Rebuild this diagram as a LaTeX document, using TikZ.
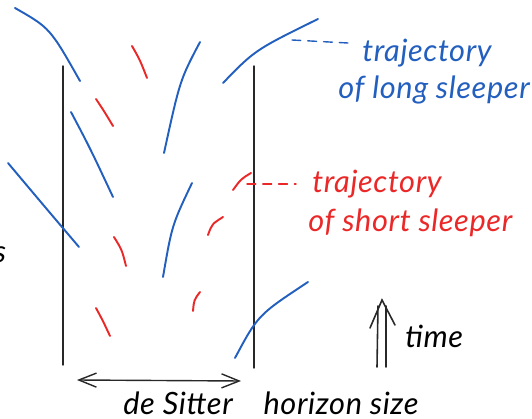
\documentclass[tikz,border=0pt]{standalone}
\usepackage{fontspec}
\setmainfont{Lato}
\usetikzlibrary{arrows.meta, positioning}
\definecolor{sleepblue}{RGB}{35,95,190}
\definecolor{sleepred}{RGB}{235,40,40}
\definecolor{penblack}{RGB}{40,40,40}

\begin{document}
\begin{tikzpicture}[
    x=0.02cm, y=-0.02cm, line cap=round,
    longtraj/.style={draw=sleepblue, line width=1.1pt},
    shorttraj/.style={draw=sleepred, line width=1.1pt},
    horizon/.style={draw=penblack, line width=0.8pt},
    leader/.style={dashed, dash pattern=on 5pt off 4pt, line width=0.8pt},
    hand/.style={font=\fontsize{17.5}{20}\selectfont\itshape\addfontfeatures{LetterSpace=2},
                 inner sep=0pt, anchor=base west}
  ]
  \useasboundingbox (0,0) rectangle (532,419);

  % horizon walls
  \draw[horizon] (63,66) -- (63,365);
  \draw[horizon] (254,66) -- (254,368);

  % long sleepers
  \draw[longtraj] (15,8) .. controls (50,28) .. (80,81);
  \draw[longtraj] (71,112) .. controls (90,148) .. (113,197);
  \draw[longtraj] (200,42) .. controls (180,80) .. (164,153);
  \draw[longtraj] (223,83) .. controls (255,50) .. (318,19);
  \draw[longtraj] (8,163) .. controls (45,207) .. (79,247);
  \draw[longtraj] (192,183) .. controls (172,225) .. (163,277);
  \draw[longtraj] (235,358) .. controls (258,315) .. (308,282);

  % short sleepers
  \draw[shorttraj] (132,46) .. controls (140,60) .. (147,78);
  \draw[shorttraj] (96,99) .. controls (104,111) .. (113,126);
  \draw[shorttraj] (233,190) .. controls (241,179) .. (251,173);
  \draw[shorttraj] (114,237) .. controls (122,250) .. (126,266);
  \draw[shorttraj] (223,217) .. controls (212,224) .. (208,235);
  \draw[shorttraj] (96,308) .. controls (103,321) .. (110,336);
  \draw[shorttraj] (200,292) .. controls (194,300) .. (193,311);

  % labels
  \node[hand, text=sleepblue] (longlab) at (362,62) {trajectory};
  \node[hand, text=sleepblue] (longlab2) at (338,98) {of long sleeper};
  \node[hand, text=sleepred] (shortlab) at (312,193) {trajectory};
  \node[hand, text=sleepred] (shortlab2) at (308,232) {of short sleeper};
  \node[hand] (timelab) at (405,348) {time};
  \node[hand] (sizelab) at (123,415) {de Sitter\hspace{1em}horizon size};
  \node[hand, anchor=base] (cut) at (0,262) {s};

  \coordinate (longend) at (292,40);
  \coordinate (shortend) at (247,184);
  \draw[leader, draw=sleepblue] (longend) -- (348,43);
  \draw[leader, draw=sleepred] (shortend) -- (296,184);

  % horizon size
  \coordinate (sizeL) at (77,380);
  \coordinate (sizeR) at (241,381);
  \draw[penblack, line width=0.8pt,
        {Straight Barb[length=10pt, width=8pt]}-{Straight Barb[length=10pt, width=8pt]}]
    (sizeL) -- (sizeR);

  % time arrow
  \draw[penblack, line width=0.9pt] (377,367) -- (378,306);
  \draw[penblack, line width=0.9pt] (386,367) -- (386,306);
  \draw[penblack, line width=0.9pt] (370,328) -- (382,300) -- (395,325);
\end{tikzpicture}
\end{document}
